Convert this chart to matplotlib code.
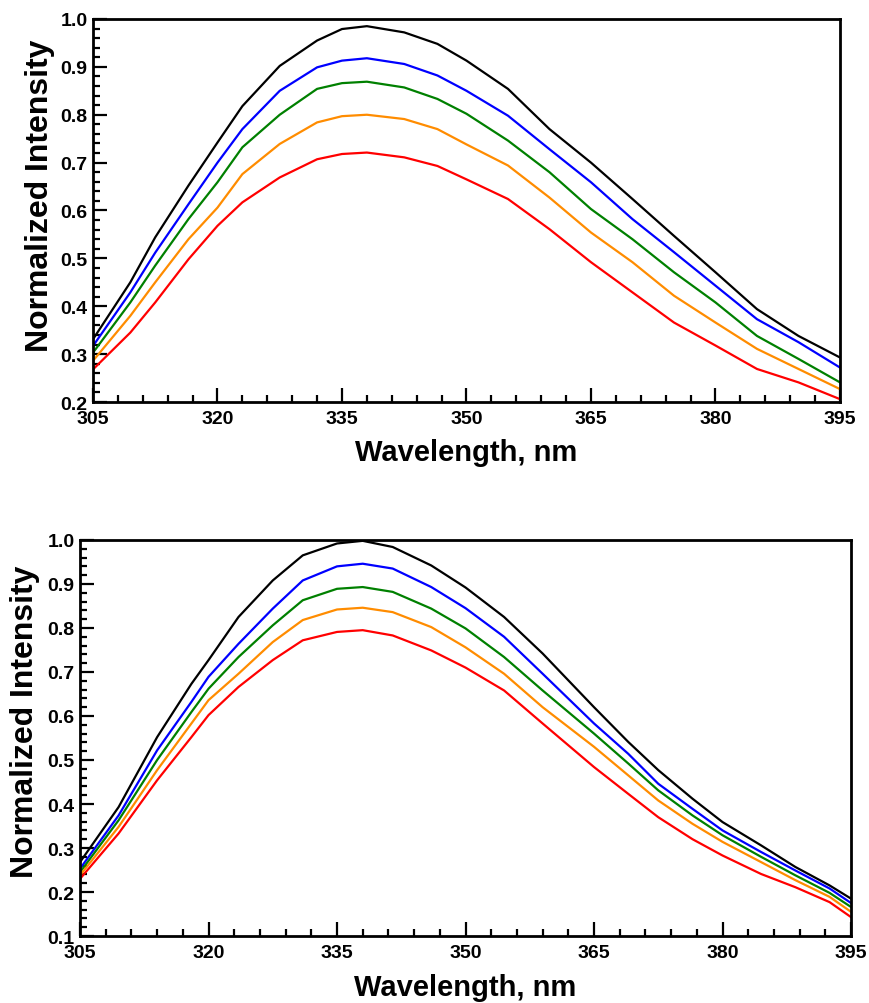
import matplotlib
matplotlib.use("Agg")
import matplotlib.pyplot as plt
import numpy as np
from matplotlib.ticker import FixedLocator, MultipleLocator, FormatStrFormatter

plt.rcParams['font.family'] = ['Liberation Sans', 'DejaVu Sans']
plt.rcParams['font.weight'] = 'bold'

# ---- top panel ----
wl_top = [305, 309.5, 312.5, 316.5, 320, 323, 327.5, 332, 335, 338, 342.5, 346.5,
          350, 355, 360, 365, 370, 375, 380, 385, 390, 395]
top_black = [0.331, 0.450, 0.544, 0.652, 0.742, 0.818, 0.902, 0.955, 0.979, 0.985, 0.972, 0.948,
             0.913, 0.854, 0.770, 0.700, 0.624, 0.547, 0.471, 0.394, 0.338, 0.293]
top_blue = [0.317, 0.429, 0.512, 0.613, 0.700, 0.770, 0.850, 0.899, 0.913, 0.918, 0.906, 0.882,
            0.850, 0.798, 0.728, 0.659, 0.582, 0.513, 0.443, 0.373, 0.325, 0.272]
top_green = [0.303, 0.408, 0.485, 0.582, 0.659, 0.732, 0.800, 0.854, 0.866, 0.869, 0.857, 0.833,
             0.802, 0.746, 0.680, 0.603, 0.540, 0.471, 0.408, 0.338, 0.290, 0.241]
top_orange = [0.286, 0.380, 0.450, 0.540, 0.606, 0.676, 0.739, 0.784, 0.797, 0.800, 0.791, 0.770,
              0.738, 0.694, 0.627, 0.554, 0.492, 0.422, 0.366, 0.311, 0.269, 0.227]
top_red = [0.268, 0.345, 0.408, 0.498, 0.568, 0.617, 0.669, 0.707, 0.718, 0.721, 0.711, 0.693,
           0.665, 0.624, 0.561, 0.492, 0.429, 0.366, 0.318, 0.269, 0.241, 0.206]

# ---- bottom panel ----
wl_bot = [305, 309.5, 314, 318, 320, 323.5, 327.5, 331, 335, 338, 341.5, 346,
          350, 354.5, 359, 365, 369, 372.5, 376.5, 380, 384.5, 388.5, 392.5, 395]
bot_black = [0.268, 0.393, 0.552, 0.673, 0.727, 0.825, 0.908, 0.965, 0.992, 0.998, 0.984, 0.942,
             0.892, 0.825, 0.742, 0.620, 0.541, 0.477, 0.412, 0.359, 0.306, 0.257, 0.215, 0.185]
bot_blue = [0.253, 0.374, 0.522, 0.632, 0.689, 0.764, 0.844, 0.908, 0.940, 0.946, 0.935, 0.893,
            0.845, 0.780, 0.696, 0.583, 0.514, 0.446, 0.389, 0.340, 0.291, 0.249, 0.208, 0.175]
bot_green = [0.245, 0.363, 0.500, 0.609, 0.662, 0.734, 0.806, 0.863, 0.889, 0.893, 0.882, 0.844,
             0.799, 0.734, 0.658, 0.560, 0.492, 0.431, 0.374, 0.329, 0.280, 0.238, 0.198, 0.166]
bot_orange = [0.238, 0.348, 0.477, 0.583, 0.636, 0.696, 0.768, 0.818, 0.842, 0.846, 0.836, 0.802,
              0.756, 0.696, 0.620, 0.530, 0.465, 0.408, 0.355, 0.314, 0.268, 0.227, 0.189, 0.155]
bot_red = [0.230, 0.333, 0.454, 0.552, 0.602, 0.666, 0.727, 0.772, 0.791, 0.795, 0.783, 0.749,
           0.710, 0.658, 0.583, 0.484, 0.423, 0.370, 0.320, 0.283, 0.241, 0.211, 0.177, 0.143]

colors = ['black', '#0000ff', '#008000', '#ff8c00', '#ff0000']

fig = plt.figure(figsize=(8.69, 10.04), dpi=100)
ax1 = fig.add_axes([0.107, 0.5986, 0.8596, 0.3815])
ax2 = fig.add_axes([0.0921, 0.0667, 0.8872, 0.3945])


def style(ax, ymin, xlab_y, ylab_x, ylab_y):
    ax.set_xlim(305, 395)
    ax.set_ylim(ymin, 1.0)
    ax.xaxis.set_major_locator(FixedLocator(np.arange(305, 396, 15)))
    ax.xaxis.set_minor_locator(FixedLocator(np.arange(305, 396, 3)))
    ax.yaxis.set_major_locator(MultipleLocator(0.1))
    ax.yaxis.set_minor_locator(MultipleLocator(0.02))
    ax.yaxis.set_major_formatter(FormatStrFormatter('%.1f'))
    ax.tick_params(which='both', direction='in', top=False, right=False, width=1.6)
    ax.tick_params(which='major', length=10, labelsize=14)
    ax.tick_params(which='minor', length=5)
    ax.tick_params(axis='x', pad=6)
    ax.tick_params(axis='y', pad=4)
    for s in ax.spines.values():
        s.set_linewidth(2)
    ax.set_xlabel('Wavelength, nm', fontsize=21, fontweight='bold')
    ax.set_ylabel('Normalized Intensity', fontsize=23, fontweight='bold')
    ax.xaxis.set_label_coords(0.5, xlab_y)
    ax.yaxis.set_label_coords(ylab_x, ylab_y)


for ys, c in zip([top_black, top_blue, top_green, top_orange, top_red], colors):
    ax1.plot(wl_top, ys, color=c, lw=1.6)
for ys, c in zip([bot_black, bot_blue, bot_green, bot_orange, bot_red], colors):
    ax2.plot(wl_bot, ys, color=c, lw=1.6)

style(ax1, 0.2, -0.095, -0.051, 0.54)
style(ax2, 0.1, -0.094, -0.052, 0.543)

fig.savefig('out.png', dpi=100)
